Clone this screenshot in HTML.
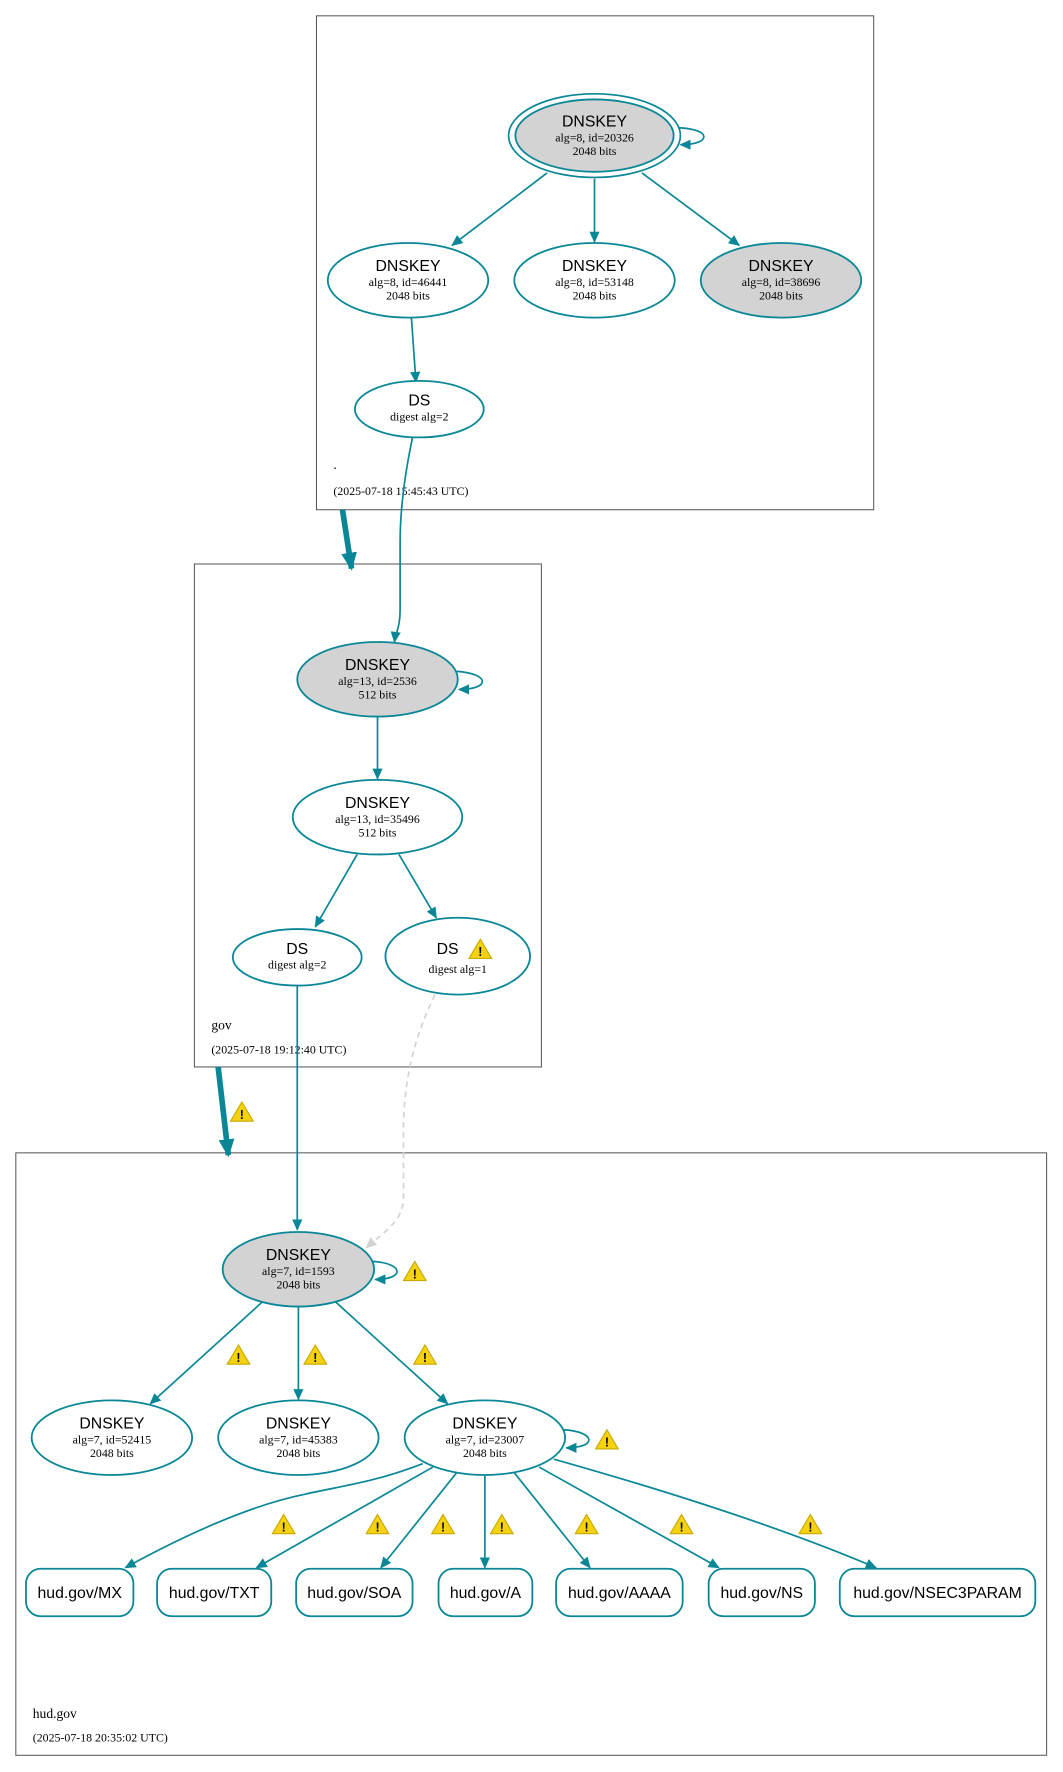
<!DOCTYPE html>
<html><head><meta charset="utf-8"><style>
html,body{margin:0;padding:0;background:#fff;width:1063px;height:1772px;overflow:hidden}
svg{display:block}
.h{font-family:"Liberation Sans",sans-serif;font-size:14px;fill:#000;text-anchor:middle}
.s{font-family:"Liberation Serif",serif;font-size:10.5px;fill:#000;text-anchor:middle}
.l{font-family:"Liberation Serif",serif;font-size:12px;fill:#000}
.d{font-family:"Liberation Serif",serif;font-size:10.5px;fill:#000}
.e{fill:none;stroke:#0a8796;stroke-width:1.5}
.n{fill:#fff;stroke:#0a8796;stroke-width:1.6}
.g{fill:#d3d3d3;stroke:#0a8796;stroke-width:1.6}
.b{fill:none;stroke:#555;stroke-width:0.9}
</style></head><body>
<svg width="1063" height="1772" viewBox="0 0 940.5 1567.8" preserveAspectRatio="none" xmlns="http://www.w3.org/2000/svg">
<defs>
<marker id="a" markerWidth="10" markerHeight="10" refX="9" refY="5" orient="auto" markerUnits="userSpaceOnUse"><path d="M0,0.5 L10,5 L0,9.5z" fill="#0a8796"/></marker>
<marker id="ag" markerWidth="10" markerHeight="10" refX="9" refY="5" orient="auto" markerUnits="userSpaceOnUse"><path d="M0,0.5 L10,5 L0,9.5z" fill="#d3d3d3"/></marker>
<marker id="at" markerWidth="16" markerHeight="16" refX="14" refY="8" orient="auto" markerUnits="userSpaceOnUse"><path d="M0,1 L16,8 L0,15z" fill="#0a8796"/></marker>
<g id="w"><path d="M0,-9 L10,8 L-10,8z" fill="#f5d20f" stroke="#c9a800" stroke-width="1"/><text x="0" y="6" font-family="Liberation Sans,sans-serif" font-size="11" font-weight="bold" text-anchor="middle">!</text></g>
</defs>

<rect class="b" x="280" y="14" width="493" height="437"/>
<rect class="b" x="172" y="499" width="307" height="445"/>
<rect class="b" x="14" y="1020" width="912" height="533"/>

<ellipse cx="526" cy="120" rx="76" ry="37" fill="#fff" stroke="#0a8796" stroke-width="1.5"/>
<ellipse class="g" cx="526" cy="120" rx="70" ry="32"/>
<text class="h" x="526" y="112">DNSKEY</text><text class="s" x="526" y="125">alg=8, id=20326</text><text class="s" x="526" y="137">2048 bits</text>
<path class="e" d="M600,113 C630,114 630,128 602,128" marker-end="url(#a)"/>
<path class="e" d="M484,153 L400,217" marker-end="url(#a)"/>
<path class="e" d="M526,158 L526,214" marker-end="url(#a)"/>
<path class="e" d="M568,153 L654,217" marker-end="url(#a)"/>
<ellipse class="n" cx="361" cy="248" rx="71" ry="33"/>
<text class="h" x="361" y="240">DNSKEY</text><text class="s" x="361" y="253">alg=8, id=46441</text><text class="s" x="361" y="265">2048 bits</text>
<ellipse class="n" cx="526" cy="248" rx="71" ry="33"/>
<text class="h" x="526" y="240">DNSKEY</text><text class="s" x="526" y="253">alg=8, id=53148</text><text class="s" x="526" y="265">2048 bits</text>
<ellipse class="g" cx="691" cy="248" rx="71" ry="33"/>
<text class="h" x="691" y="240">DNSKEY</text><text class="s" x="691" y="253">alg=8, id=38696</text><text class="s" x="691" y="265">2048 bits</text>
<path class="e" d="M364,281 L368,338" marker-end="url(#a)"/>
<ellipse class="n" cx="371" cy="362" rx="57" ry="25"/>
<text class="h" x="371" y="359">DS</text><text class="s" x="371" y="372">digest alg=2</text>
<text class="l" x="295" y="415">.</text>
<text class="d" x="295" y="438">(2025-07-18 15:45:43 UTC)</text>

<path d="M303,451 L311,503" stroke="#0a8796" stroke-width="5" fill="none" marker-end="url(#at)"/>
<path class="e" d="M365,387 C358,420 354,450 354,480 L354,540 C354,555 350,560 349,568" marker-end="url(#a)"/>

<ellipse class="g" cx="334" cy="601" rx="71" ry="33"/>
<text class="h" x="334" y="593">DNSKEY</text><text class="s" x="334" y="606">alg=13, id=2536</text><text class="s" x="334" y="618">512 bits</text>
<path class="e" d="M404,594 C434,596 434,610 406,610" marker-end="url(#a)"/>
<path class="e" d="M334,634 L334,689" marker-end="url(#a)"/>
<ellipse class="n" cx="334" cy="723" rx="75" ry="33"/>
<text class="h" x="334" y="715">DNSKEY</text><text class="s" x="334" y="728">alg=13, id=35496</text><text class="s" x="334" y="740">512 bits</text>
<path class="e" d="M316,756 L279,820" marker-end="url(#a)"/>
<path class="e" d="M353,756 L386,812" marker-end="url(#a)"/>
<ellipse class="n" cx="263" cy="847" rx="57" ry="25"/>
<text class="h" x="263" y="844">DS</text><text class="s" x="263" y="857">digest alg=2</text>
<ellipse class="n" cx="405" cy="846" rx="64" ry="34"/>
<text class="h" x="396" y="844">DS</text><use href="#w" x="425" y="840"/><text class="s" x="405" y="861">digest alg=1</text>
<text class="l" x="187" y="911">gov</text>
<text class="d" x="187" y="932">(2025-07-18 19:12:40 UTC)</text>

<path d="M193,944 L202,1022" stroke="#0a8796" stroke-width="5" fill="none" marker-end="url(#at)"/>
<use href="#w" x="214" y="984"/>
<path class="e" d="M263,872 L263,1088" marker-end="url(#a)"/>
<path d="M385,880 C365,920 357,960 357,1000 L357,1060 C357,1080 340,1090 324,1104" fill="none" stroke="#d3d3d3" stroke-width="1.5" stroke-dasharray="5,4" marker-end="url(#ag)"/>

<ellipse class="g" cx="264" cy="1123" rx="67" ry="33"/>
<text class="h" x="264" y="1115">DNSKEY</text><text class="s" x="264" y="1128">alg=7, id=1593</text><text class="s" x="264" y="1140">2048 bits</text>
<path class="e" d="M330,1116 C358,1118 358,1132 332,1132" marker-end="url(#a)"/>
<use href="#w" x="367" y="1125"/>
<path class="e" d="M232,1152 L133,1242" marker-end="url(#a)"/>
<path class="e" d="M264,1156 L264,1238" marker-end="url(#a)"/>
<path class="e" d="M297,1152 L396,1242" marker-end="url(#a)"/>
<use href="#w" x="211" y="1199"/><use href="#w" x="279" y="1199"/><use href="#w" x="376" y="1199"/>
<ellipse class="n" cx="99" cy="1272" rx="71" ry="33"/>
<text class="h" x="99" y="1264">DNSKEY</text><text class="s" x="99" y="1277">alg=7, id=52415</text><text class="s" x="99" y="1289">2048 bits</text>
<ellipse class="n" cx="264" cy="1272" rx="71" ry="33"/>
<text class="h" x="264" y="1264">DNSKEY</text><text class="s" x="264" y="1277">alg=7, id=45383</text><text class="s" x="264" y="1289">2048 bits</text>
<ellipse class="n" cx="429" cy="1272" rx="71" ry="33"/>
<text class="h" x="429" y="1264">DNSKEY</text><text class="s" x="429" y="1277">alg=7, id=23007</text><text class="s" x="429" y="1289">2048 bits</text>
<path class="e" d="M499,1265 C528,1267 528,1281 501,1281" marker-end="url(#a)"/>
<use href="#w" x="537" y="1274"/>
<path class="e" d="M374,1295 C330,1312 300,1315 270,1322 C220,1332 160,1360 111,1387" marker-end="url(#a)"/>
<path class="e" d="M383,1298 L227,1387" marker-end="url(#a)"/>
<path class="e" d="M404,1303 L337,1387" marker-end="url(#a)"/>
<path class="e" d="M429,1305 L429,1387" marker-end="url(#a)"/>
<path class="e" d="M455,1303 L522,1387" marker-end="url(#a)"/>
<path class="e" d="M477,1298 L636,1387" marker-end="url(#a)"/>
<path class="e" d="M490,1291 C600,1322 700,1355 775,1387" marker-end="url(#a)"/>
<use href="#w" x="251" y="1349"/><use href="#w" x="334" y="1349"/><use href="#w" x="392" y="1349"/><use href="#w" x="444" y="1349"/><use href="#w" x="519" y="1349"/><use href="#w" x="603" y="1349"/><use href="#w" x="717" y="1349"/>
<g>
<rect class="n" x="23" y="1388" width="95" height="42" rx="13"/><text class="h" x="70.5" y="1414">hud.gov/MX</text>
<rect class="n" x="139" y="1388" width="101" height="42" rx="13"/><text class="h" x="189.5" y="1414">hud.gov/TXT</text>
<rect class="n" x="262" y="1388" width="103" height="42" rx="13"/><text class="h" x="313.5" y="1414">hud.gov/SOA</text>
<rect class="n" x="388" y="1388" width="83" height="42" rx="13"/><text class="h" x="429.5" y="1414">hud.gov/A</text>
<rect class="n" x="492" y="1388" width="112" height="42" rx="13"/><text class="h" x="548" y="1414">hud.gov/AAAA</text>
<rect class="n" x="627" y="1388" width="94" height="42" rx="13"/><text class="h" x="674" y="1414">hud.gov/NS</text>
<rect class="n" x="743" y="1388" width="173" height="42" rx="13"/><text class="h" x="829.5" y="1414">hud.gov/NSEC3PARAM</text>
</g>
<text class="l" x="29" y="1520">hud.gov</text>
<text class="d" x="29" y="1541">(2025-07-18 20:35:02 UTC)</text>
</svg>
</body></html>
